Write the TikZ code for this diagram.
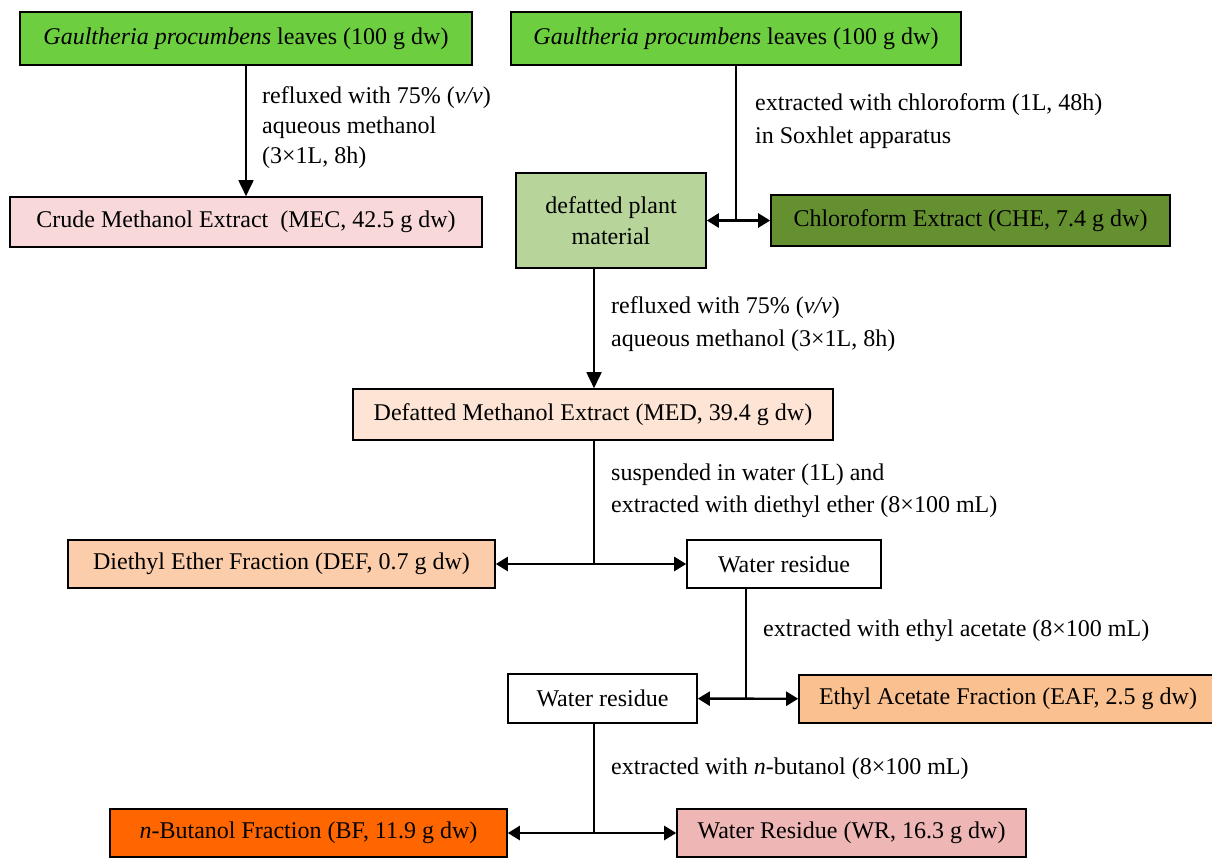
\documentclass[tikz,border=0pt]{standalone}
\usepackage{fontspec}
\setmainfont{Liberation Serif}
\usetikzlibrary{arrows.meta}
\definecolor{gbright}{HTML}{6DCE3F}
\definecolor{mecpink}{HTML}{F8D8D8}
\definecolor{dpmgreen}{HTML}{B7D59B}
\definecolor{chegreen}{HTML}{65902F}
\definecolor{medpeach}{HTML}{FDE4D5}
\definecolor{defpeach}{HTML}{FBCDAB}
\definecolor{eaforange}{HTML}{FAC08F}
\definecolor{bforange}{HTML}{FF6600}
\definecolor{wrpink}{HTML}{EEB7B5}
\tikzset{
  box/.style={draw=black, line width=1.6pt, inner sep=0pt, align=center, font=\fontsize{24}{31}\selectfont},
  lbl/.style={anchor=west, inner sep=0pt, align=left, font=\fontsize{24}{33}\selectfont},
  arr/.style={line width=1.8pt, -{Triangle[length=16pt,width=15pt]}},
  darr/.style={line width=2.4pt, {Triangle[length=12pt,width=14pt]}-{Triangle[length=12pt,width=14pt]}},
  plain/.style={line width=1.2pt}
}
\begin{document}
\begin{tikzpicture}[x=1pt,y=-1pt]
\clip (0,0) rectangle (1212,857);
\fill[white] (0,0) rectangle (1212,857);
% boxes
\node[box, fill=gbright, minimum width=452pt, minimum height=53pt] (g1) at (246,38.5) {\textit{Gaultheria procumbens} leaves (100 g dw)};
\node[box, fill=gbright, minimum width=450pt, minimum height=53pt] (g2) at (736,38.5) {\textit{Gaultheria procumbens} leaves (100 g dw)};
\node[box, fill=mecpink, minimum width=472pt, minimum height=50pt] (mec) at (246,222) {Crude Methanol Extract\ \ (MEC, 42.5 g dw)};
\node[box, fill=dpmgreen, minimum width=190pt, minimum height=95pt] (dpm) at (611,220.5) {defatted plant\\material};
\node[box, fill=chegreen, minimum width=399pt, minimum height=51pt] (che) at (970.5,220.5) {Chloroform Extract (CHE, 7.4 g dw)};
\node[box, fill=medpeach, minimum width=480pt, minimum height=51pt] (med) at (593,414.5) {Defatted Methanol Extract (MED, 39.4 g dw)};
\node[box, fill=defpeach, minimum width=427pt, minimum height=48pt] (def) at (281.5,564) {Diethyl Ether Fraction (DEF, 0.7 g dw)};
\node[box, fill=white, minimum width=194pt, minimum height=48pt] (wr1) at (784,564) {Water residue};
\node[box, fill=white, minimum width=189pt, minimum height=49pt] (wr2) at (602.5,698.5) {Water residue};
\node[box, fill=eaforange, minimum width=418pt, minimum height=48pt] (eaf) at (1008,699) {Ethyl Acetate Fraction (EAF, 2.5 g dw)};
\node[box, fill=bforange, minimum width=397pt, minimum height=48pt] (bf) at (308.5,833) {\textit{n}-Butanol Fraction (BF, 11.9 g dw)};
\node[box, fill=wrpink, minimum width=349pt, minimum height=48pt] (wr) at (851.5,833) {Water Residue (WR, 16.3 g dw)};
% junctions
\coordinate (j1) at (736,220.5);
\coordinate (j2) at (594,564);
\coordinate (j3) at (746,699);
\coordinate (j4) at (594,833);
% connectors
\draw[arr] (g1) -- (mec);
\draw[plain] (g2) -- (j1);
\draw[darr] (dpm) -- (che);
\draw[arr] (dpm.south -| j2) -- (med.north -| j2);
\draw[plain] (med.south -| j2) -- (j2);
\draw[darr] (def) -- (wr1);
\draw[plain] (wr1.south -| j3) -- (j3);
\draw[darr] (wr2) -- (eaf);
\draw[plain] (wr2.south -| j4) -- (j4);
\draw[darr] (bf) -- (wr);
% labels
\node[lbl, font=\fontsize{24}{30}\selectfont] (l1) at (262,128) {refluxed with 75\% (\textit{v/v})\\aqueous methanol\\(3×1L, 8h)};
\node[lbl] (l2) at (755,121.5) {extracted with chloroform (1L, 48h)\\in Soxhlet apparatus};
\node[lbl] (l3) at (611,324) {refluxed with 75\% (\textit{v/v})\\aqueous methanol (3×1L, 8h)};
\node[lbl, font=\fontsize{24}{32}\selectfont] (l4) at (611,491) {suspended in water (1L) and\\extracted with diethyl ether (8×100 mL)};
\node[lbl] (l5) at (763,631) {extracted with ethyl acetate (8×100 mL)};
\node[lbl] (l6) at (611,769) {extracted with \textit{n}-butanol (8×100 mL)};
\end{tikzpicture}
\end{document}
